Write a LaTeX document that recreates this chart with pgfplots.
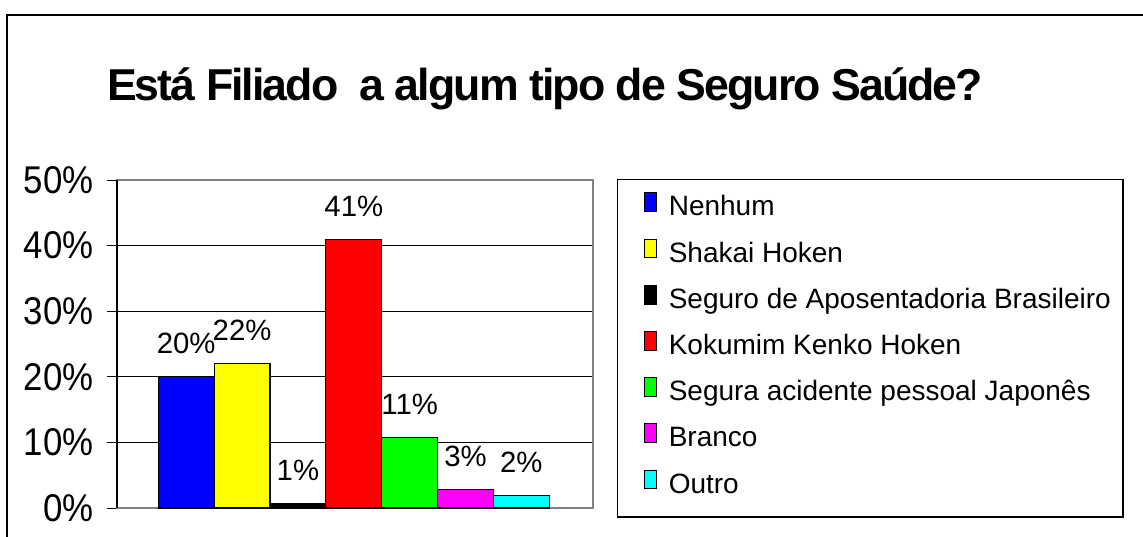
\documentclass[border=0pt]{standalone}
\usepackage{fontspec}
\setmainfont{Liberation Sans}
\newfontfamily\titlefont{Liberation Sans}[LetterSpace=-4.3]
\newfontfamily\tickfont{Liberation Sans}[FakeStretch=0.9]
\usepackage{pgfplots}
\pgfplotsset{compat=1.18}
\definecolor{BarBlue}{HTML}{0000FF}
\definecolor{BarYellow}{HTML}{FFFF00}
\definecolor{BarBlack}{HTML}{000000}
\definecolor{BarRed}{HTML}{FF0000}
\definecolor{BarGreen}{HTML}{00FF00}
\definecolor{BarMagenta}{HTML}{FF00FF}
\definecolor{BarCyan}{HTML}{00FFFF}
\definecolor{Frame}{HTML}{808080}

\begin{document}
\begin{tikzpicture}
\path[use as bounding box] (0pt,0pt) rectangle (857.25pt,402pt);
% outer chart frame (runs off the right and bottom edges)
\draw[line width=1.5pt] (5pt,-5pt) -- (5pt,390.5pt) -- (870pt,390.5pt);
\node[anchor=base,inner sep=0pt,font=\titlefont\bfseries\fontsize{33.5}{36}\selectfont]
  at (408.75pt,326.5pt) {Está Filiado\ \ a algum tipo de Seguro Saúde?};
\begin{axis}[at={(87.75pt,21pt)},anchor=south west,
  scale only axis,width=357pt,height=246pt,
  xmin=-0.239,xmax=8.282,ymin=0,ymax=50,
  xtick=\empty,ytick={0,10,20,30,40,50},
  yticklabels={0\%,10\%,20\%,30\%,40\%,50\%},
  ytick pos=left,tick align=outside,major tick length=7.5pt,
  tick style={black,line width=0.75pt},
  yticklabel style={font=\tickfont\fontsize{29}{31}\selectfont,inner sep=0pt,xshift=-10pt},
  axis line style={draw=Frame,line width=1pt},
  ymajorgrids,grid style={black,line width=0.75pt},
  ybar,bar width=1,
  every axis plot/.append style={draw=black,line width=0.8pt},
  nodes near coords,point meta=explicit symbolic,
  every node near coord/.append style={font=\fontsize{22}{24}\selectfont,
    inner sep=0pt,anchor=center,yshift=24.75pt,text=black},
  legend image code/.code={\path (0pt,0pt) (19.5pt,0pt);
    \draw[#1,draw=black,line width=0.8pt] (10.5pt,0pt) rectangle (19.5pt,14pt);},
  legend style={at={(1.0504,1.003)},anchor=north west,draw=black,
    line width=1.1pt,fill=white,font=\fontsize{21}{24}\selectfont,
    inner xsep=9pt,inner ysep=9.5pt,row sep=8.5pt,column sep=9pt,
    nodes={inner sep=0pt,text height=15pt,text depth=8.5pt}},
  legend cell align=left,
  clip=false,
  after end axis/.code={\draw[black,line width=1pt]
    (rel axis cs:0,0) -- (rel axis cs:0,1);},
]
\addplot[fill=BarBlue,bar shift=0pt] coordinates {(1,20) [20\%]};
\addlegendentry{Nenhum}
\addplot[fill=BarYellow,bar shift=0pt] coordinates {(2,22) [22\%]};
\addlegendentry{Shakai Hoken}
\addplot[fill=BarBlack,bar shift=0pt] coordinates {(3,0.7) [1\%]};
\addlegendentry{Seguro de Aposentadoria Brasileiro}
\addplot[fill=BarRed,bar shift=0pt] coordinates {(4,41) [41\%]};
\addlegendentry{Kokumim Kenko Hoken}
\addplot[fill=BarGreen,bar shift=0pt] coordinates {(5,10.8) [11\%]};
\addlegendentry{Segura acidente pessoal Japonês}
\addplot[fill=BarMagenta,bar shift=0pt] coordinates {(6,2.8) [3\%]};
\addlegendentry{Branco}
\addplot[fill=BarCyan,bar shift=0pt] coordinates {(7,1.9) [2\%]};
\addlegendentry{Outro}
\end{axis}
\end{tikzpicture}
\end{document}
